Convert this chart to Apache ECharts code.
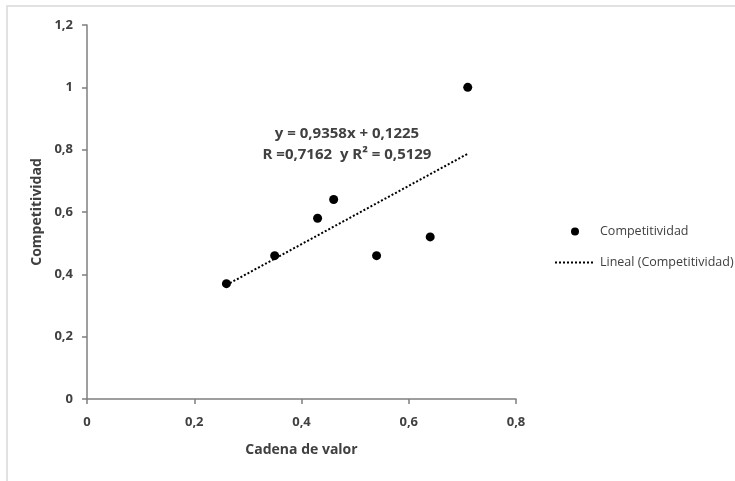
<!DOCTYPE html>
<html>
<head>
<meta charset="utf-8">
<script src="https://cdn.jsdelivr.net/npm/echarts@6/dist/echarts.min.js"></script>
<style>
  html, body { margin: 0; padding: 0; background: #fff; }
  #main { width: 735px; height: 481px; }
</style>
</head>
<body>
<div id="main"></div>
<script>
// datos
var cadenaValor = [0.26, 0.35, 0.43, 0.46, 0.54, 0.64, 0.71];
var competitividad = [0.37, 0.46, 0.58, 0.64, 0.46, 0.52, 1.0];
// recta de regresion (tal como aparece en la etiqueta)
var pendiente = 0.9358;
var intercepto = 0.1225;
var xTicks = [0, 0.2, 0.4, 0.6, 0.8];
var yTicks = [0, 0.2, 0.4, 0.6, 0.8, 1, 1.2];

var puntos = cadenaValor.map(function (x, i) { return [x, competitividad[i]]; });
var xMin = Math.min.apply(null, cadenaValor);
var xMax = Math.max.apply(null, cadenaValor);
var lineal = [[xMin, pendiente * xMin + intercepto], [xMax, pendiente * xMax + intercepto]];

function coma(v) { return String(+v.toFixed(1)).replace('.', ','); }

var fuente = '"Open Sans", "DejaVu Sans", sans-serif';
var gris = '#404040';

var chart = echarts.init(document.getElementById('main'));
var option = {
  animation: false,
  textStyle: { fontFamily: fuente },
  graphic: [
    {
      type: 'rect', x: 7, y: 6, z: -1,
      shape: { width: 760, height: 500 },
      style: { fill: '#fff', stroke: '#d9d9d9', lineWidth: 1.5 }
    },
    {
      type: 'text', x: 347, y: 123,
      style: {
        text: 'y = 0,9358x + 0,1225\nR =0,7162  y R² = 0,5129',
        fill: gris, font: 'bold 15px ' + fuente, lineHeight: 21, align: 'center'
      }
    }
  ],
  legend: {
    orient: 'vertical',
    left: 549, top: 220,
    itemWidth: 40, itemHeight: 8, itemGap: 18,
    textStyle: { color: gris, fontSize: 12.5, fontFamily: fuente },
    data: [
      { name: 'Competitividad', icon: 'circle' },
      { name: 'Lineal (Competitividad)', itemStyle: { opacity: 0 } }
    ]
  },
  grid: { left: 87, top: 25, right: 219, bottom: 82 },
  xAxis: {
    type: 'value', min: 0, max: 0.8, interval: 0.2,
    name: 'Cadena de valor', nameLocation: 'middle', nameGap: 44,
    nameTextStyle: { color: gris, fontWeight: 'bold', fontSize: 14 },
    splitLine: { show: false },
    axisLine: { lineStyle: { color: '#7f7f7f', width: 1.5 } },
    axisTick: { show: true, length: 5, lineStyle: { color: '#7f7f7f', width: 1.5 } },
    axisLabel: { color: gris, fontWeight: 'bold', fontSize: 13, margin: 17,
      formatter: function (v) { return coma(v); }, customValues: xTicks }
  },
  yAxis: {
    type: 'value', min: 0, max: 1.2, interval: 0.2,
    name: 'Competitividad', nameLocation: 'middle', nameGap: 40,
    nameTextStyle: { color: gris, fontWeight: 'bold', fontSize: 14 },
    splitLine: { show: false },
    axisLine: { show: true, lineStyle: { color: '#7f7f7f', width: 1.5 } },
    axisTick: { show: true, length: 5, lineStyle: { color: '#7f7f7f', width: 1.5 } },
    axisLabel: { color: gris, fontWeight: 'bold', fontSize: 13, margin: 14,
      formatter: function (v) { return coma(v); }, customValues: yTicks }
  },
  series: [
    {
      name: 'Competitividad', type: 'scatter', data: puntos,
      symbolSize: 9, itemStyle: { color: '#000', opacity: 1 }
    },
    {
      name: 'Lineal (Competitividad)', type: 'line', data: lineal,
      symbol: 'none', z: 1,
      lineStyle: { color: '#000', width: 2, type: [2, 2] },
      itemStyle: { color: '#000' }
    }
  ]
};
chart.setOption(option);
</script>
</body>
</html>
